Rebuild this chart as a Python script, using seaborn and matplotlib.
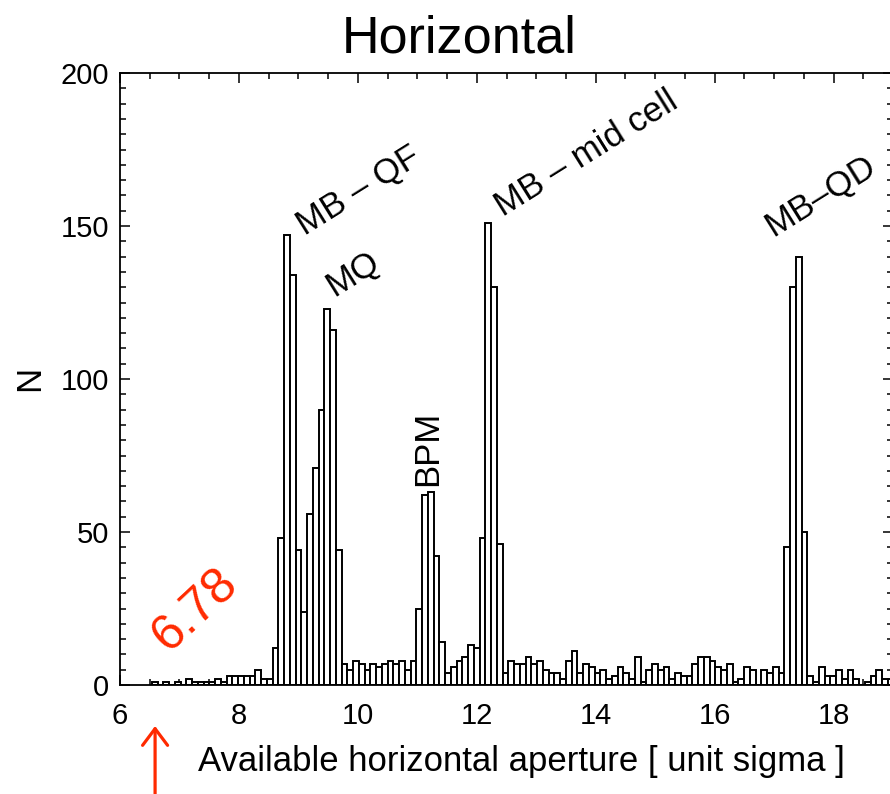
import matplotlib
matplotlib.use("Agg")
import matplotlib.pyplot as plt
import numpy as np
import pandas as pd
import seaborn as sns
from matplotlib.ticker import MultipleLocator

# ---------------- data ----------------
bin_start = 6.535      # left edge of first bin
bin_width = 0.0967
counts = [
    1, 0, 1, 0, 1, 0, 2, 1, 1, 1, 1, 2, 1, 3, 3, 3, 3, 3, 5, 2, 2, 12, 48,
    147, 134, 44, 24, 56, 71, 90, 123, 116, 44, 7, 5, 8, 7, 5, 7, 6, 7, 8,
    7, 8, 5, 8, 25, 62, 63, 42, 14, 4, 6, 8, 9, 13, 12, 48, 151, 130, 46, 4,
    8, 7, 7, 9, 7, 8, 5, 4, 4, 2, 8, 11, 4, 7, 6, 4, 5, 2, 3, 6, 4, 2, 9, 1,
    5, 7, 5, 6, 2, 4, 3, 3, 7, 9, 9, 8, 6, 5, 7, 1, 2, 6, 5, 0, 5, 4, 6, 4,
    45, 130, 140, 50, 3, 1, 6, 3, 3, 5, 2, 5, 2, 0, 1, 3, 5, 2, 2,
]
labels = ["MB \u2013 QF", "MQ", "BPM", "MB \u2013 mid cell", "MB\u2013QD"]
label_x = [9.10, 9.60, 11.17, 12.44, 16.97]
label_y = [147, 127, 65, 153, 146.5]
label_rot = [32, 32, 90, 32, 32]
limit_value = "6.78"

edges = [bin_start + bin_width * k for k in range(len(counts) + 1)]
centers = [(a + b) / 2 for a, b in zip(edges[:-1], edges[1:])]
df = pd.DataFrame({"aperture": centers, "N": counts})

# ---------------- figure ----------------
sns.set_theme(style="ticks")
plt.rcParams["font.family"] = ["Liberation Sans", "DejaVu Sans"]
plt.rcParams["text.color"] = "black"

W, H = 890, 794
fig = plt.figure(figsize=(W / 100, H / 100), dpi=100)
ax_l, ax_r, ax_t, ax_b = 120, 893, 73, 685
ax = fig.add_axes([ax_l / W, 1 - ax_b / H, (ax_r - ax_l) / W, (ax_b - ax_t) / H])

sns.histplot(data=df, x="aperture", weights="N", bins=edges, ax=ax,
             element="bars", fill=True, color="white", edgecolor="black",
             linewidth=1.4, alpha=1)

ax.set_xlim(6, 19)
ax.set_ylim(0, 200)
ax.xaxis.set_major_locator(MultipleLocator(2))
ax.xaxis.set_minor_locator(MultipleLocator(0.5))
ax.yaxis.set_major_locator(MultipleLocator(50))
ax.yaxis.set_minor_locator(MultipleLocator(5))
ax.tick_params(which="both", direction="in", top=True, right=True,
               width=1.1, color="black", labelsize=21, labelcolor="black")
ax.tick_params(which="major", length=7.5)
ax.tick_params(which="minor", length=4)
ax.tick_params(axis="x", which="major", pad=12)
ax.tick_params(axis="y", which="major", pad=8)
for s in ax.spines.values():
    s.set_visible(True)
    s.set_linewidth(1.3)
    s.set_color("black")

ax.set_xlabel("Available horizontal aperture [ unit sigma ]", fontsize=25, color="black")
ax.xaxis.set_label_coords((521 - ax_l) / (ax_r - ax_l), (ax_b - 762) / (ax_b - ax_t))
ax.xaxis.label.set_va("center")
ax.set_ylabel("N", fontsize=25, color="black")
ax.yaxis.set_label_coords((30 - ax_l) / (ax_r - ax_l), (ax_b - 378) / (ax_b - ax_t))
ax.yaxis.label.set_va("center")

ax.set_title("Horizontal", fontsize=37.5, color="black",
             x=(459 - ax_l) / (ax_r - ax_l), y=(ax_b - 53) / (ax_b - ax_t),
             va="baseline", pad=0)

for t, x, y, r in zip(labels, label_x, label_y, label_rot):
    if r == 90:
        ax.text(x, y, t, rotation=90, ha="center", va="bottom", fontsize=25,
                color="black")
    else:
        ax.text(x, y, t, rotation=r, rotation_mode="anchor", ha="left",
                va="baseline", fontsize=25, color="black")

red = "#ff2a00"
ax.text(7.27, 24.5, limit_value, rotation=43, rotation_mode="anchor", ha="center",
        va="center", fontsize=36, color=red, clip_on=False)
ax.annotate("", xy=(6.59, 1 - 726 / H), xytext=(6.59, 1 - 794 / H),
            xycoords=("data", "figure fraction"), textcoords=("data", "figure fraction"),
            arrowprops=dict(arrowstyle="->,head_length=1.0,head_width=0.75",
                            color=red, lw=2.3, shrinkA=0, shrinkB=0),
            annotation_clip=False)

fig.savefig("out.png", dpi=100)
